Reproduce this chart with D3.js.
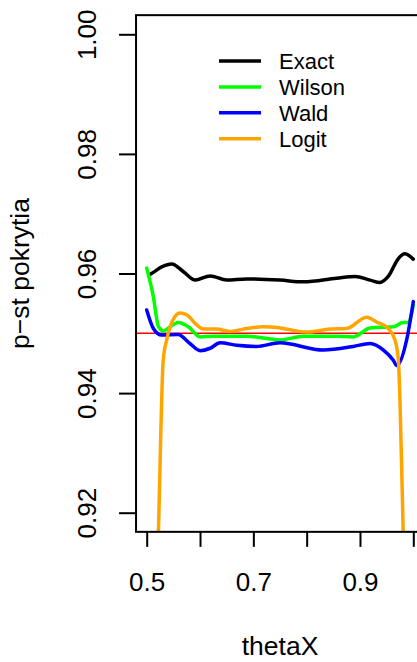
<!DOCTYPE html>
<html>
<head>
<meta charset="utf-8">
<script src="https://cdn.jsdelivr.net/npm/d3@7"></script>
<style>
html, body { margin: 0; padding: 0; background: #fff; }
svg { display: block; font-family: "Liberation Sans", Arial, Helvetica, sans-serif; }
</style>
</head>
<body>
<svg id="chart" width="417" height="662"></svg>
<script>
// ---- data ----
const seriesNames = ["Exact", "Wilson", "Wald", "Logit"];
const seriesColors = ["#000000", "#00ff00", "#0000ff", "#ffa500"];

const exactX = [0.505, 0.509, 0.528, 0.547, 0.569, 0.591, 0.619, 0.65, 0.6875, 0.75, 0.794, 0.856, 0.891, 0.919, 0.9375, 0.953, 0.972, 0.984, 1.0];
const exactY = [0.9598, 0.9600, 0.9611, 0.9616, 0.9603, 0.9589, 0.9596, 0.9589, 0.9591, 0.9589, 0.9586, 0.9592, 0.9595, 0.9589, 0.9585, 0.9595, 0.9625, 0.9633, 0.9624];

const wilsonX = [0.5, 0.5125, 0.522, 0.531, 0.544, 0.559, 0.578, 0.6, 0.625, 0.6875, 0.75, 0.794, 0.856, 0.8875, 0.919, 0.9625, 0.981, 0.99, 1.0];
const wilsonY = [0.9609, 0.9561, 0.9511, 0.9504, 0.9511, 0.9518, 0.9511, 0.9494, 0.9495, 0.9495, 0.9489, 0.9495, 0.9495, 0.9494, 0.9509, 0.9511, 0.9518, 0.9518, 0.9547];

const waldX = [0.5, 0.5125, 0.528, 0.559, 0.581, 0.6, 0.619, 0.6375, 0.669, 0.706, 0.75, 0.831, 0.8875, 0.919, 0.944, 0.9625, 0.969, 0.9875, 1.0];
const waldY = [0.9539, 0.9508, 0.9497, 0.9498, 0.9483, 0.9471, 0.9475, 0.9484, 0.9480, 0.9478, 0.9484, 0.9472, 0.9478, 0.9483, 0.9472, 0.9455, 0.9446, 0.9489, 0.9553];

const logitX = [0.5, 0.522, 0.531, 0.5375, 0.544, 0.553, 0.5625, 0.575, 0.594, 0.606, 0.631, 0.656, 0.681, 0.719, 0.75, 0.8, 0.844, 0.875, 0.9125, 0.931, 0.953, 0.9656, 0.972, 0.975, 0.981, 1.0];
const logitY = [0.845, 0.9168, 0.9455, 0.9489, 0.9511, 0.9528, 0.9534, 0.9531, 0.9514, 0.9507, 0.9507, 0.9503, 0.9507, 0.9511, 0.9509, 0.9502, 0.9507, 0.9508, 0.9527, 0.9519, 0.9508, 0.9489, 0.9455, 0.9388, 0.9168, 0.84];

const refLevel = 0.95;
const xTicks = [0.5, 0.6, 0.7, 0.8, 0.9, 1.0];
const xTickLabels = ["0.5", "", "0.7", "", "0.9", ""];
const yTicks = [0.92, 0.94, 0.96, 0.98, 1.00];
const yTickLabels = ["0.92", "0.94", "0.96", "0.98", "1.00"];
const xTitle = "thetaX";
const yTitle = "p\u2212st pokrytia";

// ---- layout ----
const svg = d3.select("#chart");
const x = d3.scaleLinear().domain([0.5, 1.0]).range([146.7, 413.3]);
const y = d3.scaleLinear().domain([0.92, 1.0]).range([512.7, 34.3]);
const xLo = 0.48, xHi = 1.02, yLo = 0.9168, yHi = 1.0032;
const pLeft = x(xLo), pRight = x(xHi), pTop = y(yHi), pBottom = y(yLo);

svg.append("defs").append("clipPath").attr("id", "clip")
  .append("rect").attr("x", pLeft).attr("y", pTop)
  .attr("width", pRight - pLeft).attr("height", pBottom - pTop);

const plot = svg.append("g").attr("clip-path", "url(#clip)");

// reference line
plot.append("line")
  .attr("x1", pLeft).attr("x2", pRight)
  .attr("y1", y(refLevel)).attr("y2", y(refLevel))
  .attr("stroke", "#ff0000").attr("stroke-width", 1.5);

const allX = [exactX, wilsonX, waldX, logitX];
const allY = [exactY, wilsonY, waldY, logitY];
const line = d3.line().x(d => x(d[0])).y(d => y(d[1])).curve(d3.curveMonotoneX);

allX.forEach((xs, i) => {
  const pts = xs.map((v, j) => [v, allY[i][j]]);
  plot.append("path").datum(pts)
    .attr("d", line)
    .attr("fill", "none")
    .attr("stroke", seriesColors[i])
    .attr("stroke-width", 3.5)
    .attr("stroke-linejoin", "round")
    .attr("stroke-linecap", "round");
});

// box
svg.append("rect").attr("x", pLeft).attr("y", pTop)
  .attr("width", pRight - pLeft).attr("height", pBottom - pTop)
  .attr("fill", "none").attr("stroke", "#000").attr("stroke-width", 2);

// x axis
const xAxis = d3.axisBottom(x).tickValues(xTicks).tickSize(15)
  .tickFormat((d, i) => xTickLabels[i]);
const gx = svg.append("g").attr("transform", `translate(0,${pBottom})`).call(xAxis);
gx.select(".domain").remove();
gx.selectAll(".tick line").attr("stroke", "#000").attr("stroke-width", 2);
gx.selectAll(".tick text").attr("font-size", 26).attr("fill", "#000")
  .attr("font-family", '"Liberation Sans", Arial, sans-serif')
  .attr("y", 59).attr("dy", 0);

// y axis
const yAxis = d3.axisLeft(y).tickValues(yTicks).tickSize(17)
  .tickFormat((d, i) => yTickLabels[i]);
const gy = svg.append("g").attr("transform", `translate(${pLeft},0)`).call(yAxis);
gy.select(".domain").remove();
gy.selectAll(".tick line").attr("stroke", "#000").attr("stroke-width", 2);
gy.selectAll(".tick text")
  .attr("font-size", 26).attr("fill", "#000")
  .attr("font-family", '"Liberation Sans", Arial, sans-serif')
  .attr("x", null).attr("dy", 0)
  .attr("text-anchor", "middle")
  .attr("transform", "translate(-40,0) rotate(-90)");

// titles
svg.append("text").attr("x", (pLeft + pRight) / 2).attr("y", 655)
  .attr("text-anchor", "middle").attr("font-size", 26.5).text(xTitle);
svg.append("text")
  .attr("transform", `translate(29,${(pTop + pBottom) / 2}) rotate(-90)`)
  .attr("text-anchor", "middle").attr("font-size", 26.5).text(yTitle);

// legend
const legY0 = 61, legStep = 25.9;
seriesNames.forEach((name, i) => {
  const ly = legY0 + i * legStep;
  svg.append("line").attr("x1", 219).attr("x2", 261)
    .attr("y1", ly).attr("y2", ly)
    .attr("stroke", seriesColors[i]).attr("stroke-width", 3.5);
  svg.append("text").attr("x", 279).attr("y", ly + 8)
    .attr("font-size", 22).text(name);
});
</script>
</body>
</html>
